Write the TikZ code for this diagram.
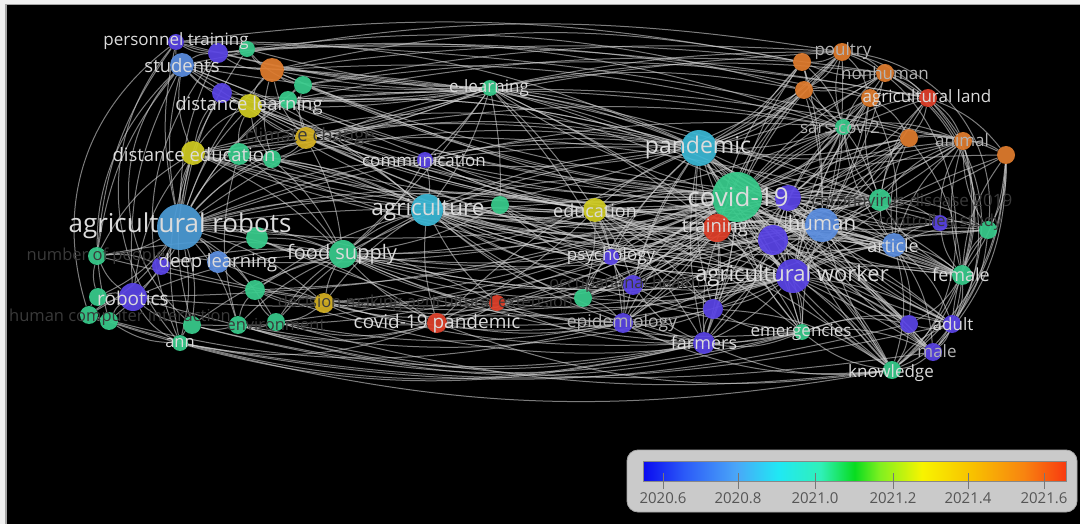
\documentclass[tikz,border=0pt]{standalone}
\usepackage{fontspec}
\setmainfont{Open Sans}
\newcommand\lsz[1]{\fontsize{#1}{#1}\selectfont}
\pgfdeclarelayer{back}
\pgfdeclarelayer{edges}
\pgfsetlayers{back,edges,main}
\definecolor{vio}{HTML}{5A44E6}
\definecolor{blu}{HTML}{5B8EE0}
\definecolor{arb}{HTML}{4C9BD6}
\definecolor{cyn}{HTML}{3BB8D6}
\definecolor{grn}{HTML}{38CC8C}
\definecolor{yel}{HTML}{D0CC22}
\definecolor{gld}{HTML}{D4B022}
\definecolor{org}{HTML}{E07C2E}
\definecolor{rdd}{HTML}{E0402A}
\definecolor{labc}{HTML}{DCDCDC}
\definecolor{dimc}{HTML}{3A3A3A}
\definecolor{midc}{HTML}{B4B4B4}
\definecolor{edgec}{HTML}{D0D0D0}
\definecolor{legbg}{HTML}{CACACA}
\definecolor{legbd}{HTML}{A8A8A8}
\definecolor{legtx}{HTML}{555555}
\definecolor{c0}{HTML}{0A0AF0}
\definecolor{c1}{HTML}{2C5CF8}
\definecolor{c2}{HTML}{4AA6F8}
\definecolor{c3}{HTML}{20E8F4}
\definecolor{c4}{HTML}{30F0B8}
\definecolor{c5}{HTML}{08DC20}
\definecolor{c6}{HTML}{80F020}
\definecolor{c7}{HTML}{F8F400}
\definecolor{c8}{HTML}{F8C000}
\definecolor{c9}{HTML}{F88410}
\definecolor{c10}{HTML}{F83A10}
\pgfdeclarehorizontalshading{vosbar}{100bp}{color(0bp)=(c0); color(25bp)=(c0); color(30bp)=(c1); color(36bp)=(c2); color(41bp)=(c3); color(46bp)=(c4); color(50bp)=(c5); color(53bp)=(c6); color(58bp)=(c7); color(64bp)=(c8); color(70bp)=(c9); color(75bp)=(c10); color(100bp)=(c10)}
\tikzset{
  vn/.style 2 args={circle, fill=#1, inner sep=0pt, minimum size=#2pt, draw=none, fill opacity=0.93},
  edge/.style={draw=edgec, draw opacity=0.6, line width=1pt},
  lab/.style={text=labc, inner sep=0pt},
  dlab/.style={text=dimc, inner sep=0pt},
  mlab/.style={text=midc, inner sep=0pt},
  ltick/.style={draw=legtx!80, line width=0.8pt},
  ltext/.style={text=legtx, font=\lsz{15}, inner sep=0pt}
}
\begin{document}
\begin{tikzpicture}[x=1pt,y=-1pt]
\useasboundingbox (0,0) rectangle (1080,524);
\begin{pgfonlayer}{back}
\fill[white!94!black] (0,0) rectangle (1080,524);
\fill[black] (7,5) rectangle (1080,524);
\draw[gray!70, line width=1.5pt] (6,524) -- (6,4.5) -- (1080,4.5);
\end{pgfonlayer}
% nodes
\foreach \n/\x/\y/\c/\d in {
pt/176/42/vio/16, b1/218/53/vio/20, g1/247/49/grn/16, o1/272/70/org/24, g2/303/85/grn/18,
st/182/65/blu/24, b2/222/93/vio/20, g3/288/100/grn/18, dl/250/106/yel/24, cc/306/138/gld/22,
de/193/153/yel/24, g4/239/154/grn/22, g5/272/159/grn/18, ar/180/227/arb/46, g6/257/238/grn/22,
np/97/256/grn/18, v1/161/266/vio/18, dp/218/262/blu/22, fs/343/254/grn/28, rb/133/297/vio/28,
g7/98/297/grn/18, hc/89/315/grn/18, g8/109/321/grn/18, g9/192/325/grn/18, g10/238/325/grn/18,
en/276/322/grn/18, an/180/343/grn/16, g11/255/290/grn/20, dm/324/303/gld/20, ae/497/303/rdd/16,
cp/437/323/rdd/20, el/490/88/grn/16, cm/425/160/vio/16, ag/427/210/cyn/32, g12/500/205/grn/18,
ed/595/210/yel/24, ps/611/257/vio/16, oh/633/285/vio/20, g13/583/298/grn/18, ep/623/323/vio/20,
pa/699/148/cyn/36, cv/737/197/grn/50, tr/717/228/rdd/28, v2/788/198/vio/26, hu/822/225/blu/34,
v3/773/240/vio/30, aw/793/276/vio/34, v4/713/309/vio/20, fa/704/343/vio/22, em/802/332/grn/16,
cd/880/200/grn/22, v5/940/223/vio/16, g14/988/230/grn/18, at/894/245/blu/24, fe/962/275/grn/20,
v6/909/324/vio/18, ad/952/324/vio/18, ma/933/352/vio/18, kn/892/370/grn/18, sc/843/127/grn/16,
po/842/52/org/18, o2/802/62/org/18, nh/885/73/org/18, o3/804/90/org/18, o4/870/98/org/18,
al/928/98/rdd/18, o5/909/138/org/18, am/963/141/org/18, o6/1006/155/org/18}
  \node[vn={\c}{\d}] (\n) at (\x,\y) {};
% edges
\begin{pgfonlayer}{edges}
\foreach \b in {pa,tr,v2,hu,v3,aw,v4,fa,em,cd,v5,g14,at,fe,v6,ad,ma,kn,sc,po,o2,nh,o3,o4,al,o5,am,o6,ed,ps,oh,g13,ep,ag,g12,cm,el,fs,cp,ae,dm,ar,dl,de,st,cc,o1,g2,g3,g11,en,dp,rb,g5}
  \draw[edge] (cv) to[bend left=8] (\b);
\foreach \b in {hu,aw,at,fe,sc,ed,ag,fa,kn,ep,tr,v3,cd,ps,oh,em,v6,ad,o4,o5}
  \draw[edge] (cv) to[bend right=14] (\b);
\foreach \b in {tr,hu,aw,v3,fa,em,sc,o2,o3,po,nh,ed,ps,ep,oh,ag,cm,el,fs,cp,ar,de,dl,cc,g5,at,fe,kn,v6,ad,am,o5,v2,cd,g13,v4}
  \draw[edge] (pa) to[bend right=10] (\b);
\foreach \b in {hu,v3,tr,v2,fa,v4,em,at,fe,ad,ma,kn,v6,cd,v5,g14,ps,oh,ep,g13,ed,ag,fs,cp,ae,sc,o4,o5,am,o6,nh,g12,dm}
  \draw[edge] (aw) to[bend left=10] (\b);
\foreach \b in {at,fe,ad,ma,v6,kn,cd,v5,g14,sc,o4,o5,am,al,o6,po,nh,o2,o3,tr,v3,em,fa,v4,ed,ep,ps,oh,g13}
  \draw[edge] (hu) to[bend right=8] (\b);
\foreach \b in {v2,at,fe,ad,ma,kn,v6,em,fa,v4,ep,oh,ps,g13,ed,ag,sc,cd,o5,am}
  \draw[edge] (v3) to[bend left=12] (\b);
\foreach \b in {at,fe,cd,v5,g14,sc,o4,o5,am,al,kn,ad,ma,em,fa,ps,ep,ed}
  \draw[edge] (v2) to[bend right=12] (\b);
\foreach \b in {st,pt,b1,g1,o1,g2,b2,g3,dl,cc,de,g4,g5,g6,np,v1,dp,fs,rb,g7,hc,g8,g9,g10,en,an,g11,dm,ag,cm,el,ed,pa,cp,ae,tr,aw}
  \draw[edge] (ar) to[bend left=12] (\b);
\foreach \b in {cm,el,g12,ed,ps,oh,g13,ep,fa,tr,fs,dm,cp,ae,de,dl,cc,st,g5,g4,en,g11,hu,aw,v3,at,sc,o3,v2,cd,em}
  \draw[edge] (ag) to[bend right=10] (\b);
\foreach \b in {cm,ed,de,dl,st,pt,b1,g1,o1,g2,cc,g4,pa,hu,tr,aw,v2,g12,fs,ps,cd,g3,b2}
  \draw[edge] (el) to[bend left=6] (\b);
\foreach \b in {g6,dp,dm,en,g11,g10,cp,ae,cm,ed,g12,rb,cc,ps,oh,g13,tr,de,g4,g5,v1,np,g9,hu,aw,fa,ep}
  \draw[edge] (fs) to[bend right=10] (\b);
\foreach \b in {v2,hu,v3,aw,ed,ps,oh,g13,ep,fa,v4,em,at,fe,cd,sc,o3,kn,cp,ae}
  \draw[edge] (tr) to[bend left=10] (\b);
\foreach \b in {ps,oh,g13,ep,fa,v4,cm,g12,em,de,dl,st,at,fe,kn,ma,cp}
  \draw[edge] (ed) to[bend left=8] (\b);
\foreach \a/\b in {at/fe,at/ad,at/ma,at/v6,at/kn,at/cd,at/v5,at/g14,at/sc,at/am,at/o5,fe/ad,fe/ma,fe/v6,fe/kn,fe/g14,fe/v5,fe/cd,fe/o6,fe/am,ad/ma,ad/v6,ad/kn,ad/g14,ma/kn,ma/v6,v6/kn,cd/v5,cd/g14,cd/sc,cd/o5,cd/am,cd/al,cd/o4,v5/g14,v5/am,sc/o4,sc/o5,sc/al,sc/nh,sc/po,sc/o2,sc/o3,sc/am,po/o2,po/nh,po/o3,po/o4,po/al,nh/o2,nh/o3,nh/o4,nh/al,nh/am,o2/o3,o3/o4,o4/al,o4/o5,al/o5,al/am,al/o6,o5/am,am/o6,o5/o6,o6/g14,g14/am,g14/ad,kn/em,kn/fa,em/fa,em/v4,fa/v4,v3/v2,v2/hu,v3/hu,v2/cd,v3/at,em/ad,em/ma,em/v6,fa/ep,v4/ep,v4/oh,oh/ps,ps/ep,g13/ep,g13/oh,g13/ps,fa/oh,ps/v4,em/ep,kn/ep,kn/ad,o2/pa,o3/pa,po/pa,o2/sc,o3/cd,o4/at,o5/fe,am/fe,o6/fe,o6/ad,v2/at,v2/fe,v3/fe,v3/kn,v2/o5,v3/o4,v4/at,v4/kn,tr/o2,tr/po}
  \draw[edge] (\a) to[bend left=15] (\b);
\foreach \a/\b in {pt/b1,pt/st,pt/g1,b1/g1,b1/st,b1/o1,g1/o1,st/b2,st/dl,st/de,b2/dl,b2/g3,o1/g2,o1/dl,g2/g3,g3/dl,dl/cc,dl/de,dl/g4,de/g4,g4/g5,g5/cc,cc/g3,de/np,de/rb,de/an,st/rb,g6/dp,g6/fs,dp/v1,v1/np,np/rb,rb/g7,rb/hc,rb/g8,g7/hc,hc/g8,g8/an,g9/an,g9/g10,g10/en,en/dm,g11/dm,g11/en,g11/g10,dp/g11,rb/g9,rb/an,np/g7,st/np,pt/np,de/g9,g4/g10,dm/cp,dm/ae,cp/ae,en/cp,an/cp,g10/cp,o1/cc,g2/cc,g1/g2,b2/de,dl/g5,o1/g5}
  \draw[edge] (\a) to[bend right=15] (\b);
% cross links between the left part and the right part
\foreach \a/\b/\k in {de/ed/10,dl/ed/8,st/ps/10,g4/tr/8,g5/hu/10,cc/aw/8,o1/at/7,g2/cd/8,g3/fe/9,b2/aw/10,de/tr/12,dl/hu/9,cc/ed/6,g4/ps/8,g6/ep/10,dp/fa/12,g11/em/14,dm/ep/10,v1/oh/12,np/aw/12,rb/tr/12,g9/ps/10,g10/v4/12,en/ep/10,cm/ed/8,cm/pa/8,g12/ps/8,g12/oh/10,ae/fa/12,cp/ep/10,ae/em/10}
  \draw[edge] (\a) to[bend right=\k] (\b);
% long arcs over the top
\foreach \a/\b/\k in {st/po/10,pt/o2/9,o1/nh/8,g1/o3/11,b1/sc/12,st/cd/9,pt/pa/12,dl/pa/10,o1/sc/9,g2/po/7,g1/al/6,b1/o4/8,pt/am/6,st/hu/12,de/pa/14,dl/sc/8,de/cd/10,cc/po/6,g3/o2/7,el/po/6,el/nh/8,el/o3/10,cm/sc/8,o1/o2/12,g2/al/9,g3/am/8,cc/o5/10}
  \draw[edge] (\a) to[bend left=\k] (\b);
% arcs under the bottom
\foreach \a/\b/\k in {an/kn/12,g9/em/14,g10/fa/14,en/kn/11,hc/ep/14,rb/ma/12,g8/fa/15,an/v6/12,cp/kn/14,g9/fa/12,hc/fa/16,an/ad/11,g10/em/16}
  \draw[edge] (\a) to[bend right=\k] (\b);
% arcs around the clusters
\foreach \a/\b/\k in {pt/an/40,st/g9/45,pt/hc/35,b1/an/30,st/g8/30}
  \draw[edge] (\a) to[bend right=\k] (\b);
\foreach \a/\b/\k in {po/kn/60,nh/ma/50,am/kn/30,o6/kn/25,o6/ma/20,po/g14/45,nh/fe/40,al/ad/35}
  \draw[edge] (\a) to[bend left=\k] (\b);
\end{pgfonlayer}
% labels
\node[lab, font=\lsz{17}] (Lpt) at (176,41) {personnel training};
\node[lab, font=\lsz{18.5}] (Lst) at (182,66) {students};
\node[lab, font=\lsz{18.5}] (Ldl) at (249,106) {distance learning};
\node[dlab, font=\lsz{18.5}] (Lcc) at (310,137) {climate change};
\node[lab, font=\lsz{18.5}] (Lde) at (194,155) {distance education};
\node[lab, font=\lsz{26}] (Lar) at (180,226) {agricultural robots};
\node[dlab, font=\lsz{16.5}] (Lnp) at (96,256) {number of people};
\node[lab, font=\lsz{18.5}] (Ldp) at (218,263) {deep learning};
\node[lab, font=\lsz{20}] (Lfs) at (342,254) {food supply};
\node[lab, font=\lsz{19}] (Lrb) at (133,298) {robotics};
\node[dlab, font=\lsz{16.5}, anchor=west] (Lhc) at (9,317) {human computer interaction};
\node[lab, font=\lsz{16.5}] (Lan) at (180,343) {ann};
\node[dlab, font=\lsz{16.5}] (Len) at (276,325) {environment};
\node[dlab, font=\lsz{16.5}] (Ldm) at (340,303) {decision making};
\node[dlab, font=\lsz{16.5}] (Lae) at (490,303) {agricultural extension};
\node[lab, font=\lsz{19}] (Lcp) at (437,324) {covid-19 pandemic};
\node[lab, font=\lsz{17}] (Lel) at (489,88) {e-learning};
\node[lab, font=\lsz{17}] (Lcm) at (424,160) {communication};
\node[lab, font=\lsz{22.5}] (Lag) at (428,210) {agriculture};
\node[lab, font=\lsz{18}] (Led) at (595,211) {education};
\node[lab, font=\lsz{17}] (Lps) at (611,256) {psychology};
\node[dlab, font=\lsz{16.5}] (Loh) at (625,284) {occupational health};
\node[mlab, font=\lsz{17.5}] (Lep) at (622,323) {epidemiology};
\node[lab, font=\lsz{23}] (Lpa) at (698,148) {pandemic};
\node[lab, font=\lsz{26}] (Lcv) at (738,197) {covid-19};
\node[lab, font=\lsz{18.5}] (Ltr) at (715,228) {training};
\node[lab, font=\lsz{20.5}] (Lhu) at (822,223) {human};
\node[lab, font=\lsz{22}] (Law) at (792,276) {agricultural worker};
\node[lab, font=\lsz{18}] (Lfa) at (704,343) {farmers};
\node[lab, font=\lsz{17}] (Lem) at (801,332) {emergencies};
\node[dlab, font=\lsz{17}] (Lcd) at (912,200) {coronavirus disease 2019};
\node[dlab, font=\lsz{16.5}] (Lv5) at (940,222) {controlled study};
\node[lab, font=\lsz{18}] (Lat) at (893,246) {article};
\node[lab, font=\lsz{18}] (Lfe) at (961,275) {female};
\node[lab, font=\lsz{17}] (Lad) at (953,324) {adult};
\node[mlab, font=\lsz{17}] (Lma) at (937,351) {male};
\node[lab, font=\lsz{17}] (Lkn) at (891,373) {knowledge};
\node[mlab, font=\lsz{17}] (Lsc) at (840,127) {sars-cov-2};
\node[mlab, font=\lsz{17}] (Lpo) at (843,51) {poultry};
\node[mlab, font=\lsz{17}] (Lnh) at (885,73) {nonhuman};
\node[lab, font=\lsz{17}] (Lal) at (927,98) {agricultural land};
\node[mlab, font=\lsz{17}] (Lam) at (962,140) {animal};
% legend
\draw[rounded corners=11pt, fill=legbg, draw=legbd, line width=0.8pt] (627,450) rectangle (1077,512);
\shade[shading=vosbar] (643,461) rectangle (1066,481);
\draw[legtx!70, line width=0.6pt] (643,461) rectangle (1066,481);
\foreach \x/\t [count=\i] in {663/2020.6,738/2020.8,815/2021.0,893/2021.2,968/2021.4,1044/2021.6}{
  \draw[ltick] (\x,473) -- (\x,489);
  \node[ltext] (T\i) at (\x,498) {\t};
}
\end{tikzpicture}
\end{document}
